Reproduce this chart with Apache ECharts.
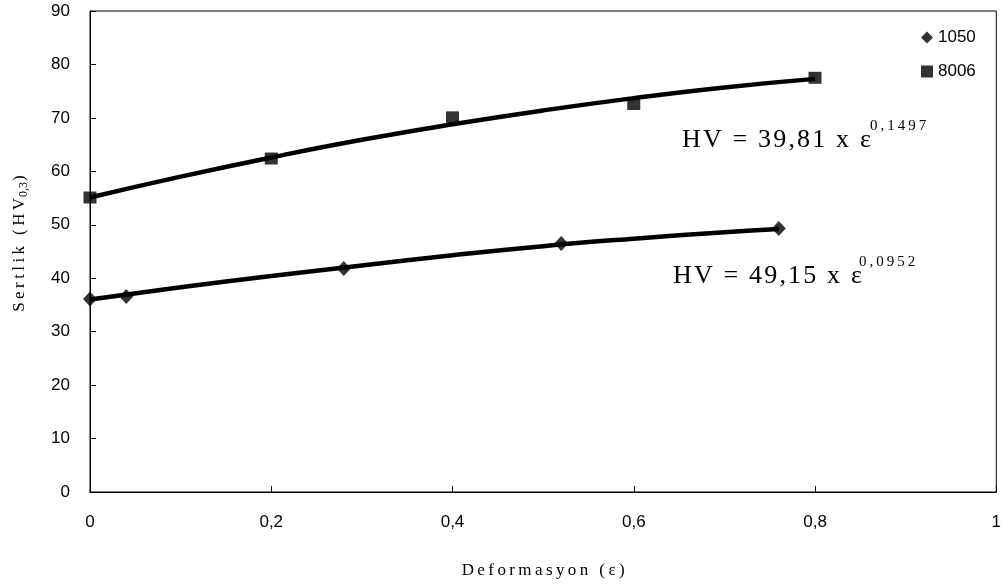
<!DOCTYPE html>
<html>
<head>
<meta charset="utf-8">
<script src="https://cdn.jsdelivr.net/npm/echarts@6/dist/echarts.min.js"></script>
<style>html,body{margin:0;padding:0;background:#fff}#c{width:1004px;height:588px}</style>
</head>
<body>
<div id="c"></div>
<script>
// ---- data ----
const x1050 = [0, 0.04, 0.28, 0.52, 0.76];
const y1050 = [36.1, 36.6, 41.8, 46.5, 49.3];
const x8006 = [0, 0.2, 0.4, 0.6, 0.8];
const y8006 = [55.1, 62.4, 70.1, 72.6, 77.5];
// fitted trend curves
const fitX1050 = [0, 0.1, 0.2, 0.3, 0.4, 0.5, 0.6, 0.7, 0.76];
const fitY1050 = [36.0, 38.3, 40.4, 42.4, 44.3, 46.0, 47.4, 48.6, 49.2];
const fitX8006 = [0, 0.1, 0.2, 0.3, 0.4, 0.5, 0.6, 0.7, 0.8];
const fitY8006 = [55.1, 59.0, 62.6, 65.9, 68.8, 71.4, 73.7, 75.7, 77.3];
const seriesNames = ['1050', '8006'];
const eq8006 = ['HV = 39,81 x ε', '0,1497'];
const eq1050 = ['HV = 49,15 x ε', '0,0952'];
const xName = 'Deformasyon (ε)';
const yNameMain = 'Sertlik (HV';
const yNameSub = '0,3';

const pair = (xs, ys) => xs.map((x, i) => [x, ys[i]]);
const sp = s => s.split('').join('\u2009');
const hsp = s => s.split('').join('\u200A');
const serif = '"Liberation Serif", "Times New Roman", serif';
const sans = '"Liberation Sans", Arial, sans-serif';

const chart = echarts.init(document.getElementById('c'), null, {renderer: 'canvas'});
chart.setOption({
  animation: false,
  backgroundColor: '#fff',
  grid: {left: 90, right: 2, top: 11, bottom: 96, show: true, borderColor: '#000', borderWidth: 1},
  legend: {
    orient: 'vertical', left: 916, top: 24, itemGap: 17, itemWidth: 12, itemHeight: 12,
    data: [{name: seriesNames[0], icon: 'diamond'}, {name: seriesNames[1], icon: 'rect'}],
    textStyle: {fontFamily: sans, fontSize: 17, color: '#000'}
  },
  xAxis: {
    type: 'value', min: 0, max: 1, interval: 0.2,
    axisLine: {lineStyle: {color: '#000', width: 1}},
    axisTick: {inside: true, length: 6, lineStyle: {color: '#000'}},
    splitLine: {show: false},
    axisLabel: {fontFamily: sans, fontSize: 17, color: '#000', margin: 22,
      formatter: v => String(+v.toFixed(1)).replace('.', ',')},
    name: sp(xName), nameLocation: 'middle', nameGap: 70,
    nameTextStyle: {fontFamily: serif, fontSize: 17, color: '#000'}
  },
  yAxis: {
    type: 'value', min: 0, max: 90, interval: 10,
    axisLine: {show: true, lineStyle: {color: '#000', width: 1}},
    axisTick: {show: true, inside: true, length: 6, lineStyle: {color: '#000'}},
    splitLine: {show: false},
    axisLabel: {fontFamily: sans, fontSize: 17, color: '#000', margin: 20},
    name: '{m|' + sp(yNameMain) + '}{s|' + yNameSub + '}{m|)}', nameLocation: 'middle', nameGap: 60,
    nameTextStyle: {fontFamily: serif, fontSize: 17, color: '#000', padding: [0, 0, 0, 16],
      rich: {m: {fontFamily: serif, fontSize: 17, color: '#000'},
             s: {fontFamily: serif, fontSize: 12, color: '#000', padding: [8, 1, 0, 1]}}}
  },
  series: [
    {type: 'line', data: pair(fitX8006, fitY8006), smooth: true, symbol: 'none', silent: true,
     lineStyle: {color: '#000', width: 4.5}, z: 2},
    {type: 'line', data: pair(fitX1050, fitY1050), smooth: true, symbol: 'none', silent: true,
     lineStyle: {color: '#000', width: 4.5}, z: 2},
    {name: seriesNames[0], type: 'scatter', data: pair(x1050, y1050), symbol: 'diamond', symbolSize: [14, 15],
     itemStyle: {color: '#000'}, z: 5},
    {name: seriesNames[1], type: 'scatter', data: pair(x8006, y8006), symbol: 'rect', symbolSize: [13, 12],
     itemStyle: {color: '#000'}, z: 5}
  ],
  graphic: [
    {type: 'text', left: 682, top: 127, style: {text: hsp(eq8006[0]), font: '26px ' + serif, fill: '#000'}},
    {type: 'text', left: 870, top: 119, style: {text: sp(eq8006[1]), font: '15px ' + serif, fill: '#000'}},
    {type: 'text', left: 673, top: 263, style: {text: hsp(eq1050[0]), font: '26px ' + serif, fill: '#000'}},
    {type: 'text', left: 859, top: 255, style: {text: sp(eq1050[1]), font: '15px ' + serif, fill: '#000'}}
  ]
});
</script>
</body>
</html>
